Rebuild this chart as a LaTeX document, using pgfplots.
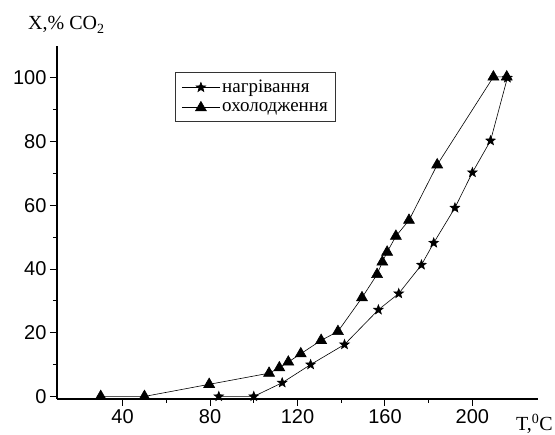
\documentclass[border=0pt]{standalone}
\usepackage{pgfplots}
\pgfplotsset{compat=1.18}
\usepackage{fontspec}
\setmainfont{Liberation Serif}
\newfontfamily\arialf{Liberation Sans}
\pgfdeclareplotmark{fstar}{%
  \pgfpathmoveto{\pgfpointpolar{90}{\pgfplotmarksize}}%
  \pgfpathlineto{\pgfpointpolar{126}{0.42\pgfplotmarksize}}%
  \pgfpathlineto{\pgfpointpolar{162}{\pgfplotmarksize}}%
  \pgfpathlineto{\pgfpointpolar{198}{0.42\pgfplotmarksize}}%
  \pgfpathlineto{\pgfpointpolar{234}{\pgfplotmarksize}}%
  \pgfpathlineto{\pgfpointpolar{270}{0.42\pgfplotmarksize}}%
  \pgfpathlineto{\pgfpointpolar{306}{\pgfplotmarksize}}%
  \pgfpathlineto{\pgfpointpolar{342}{0.42\pgfplotmarksize}}%
  \pgfpathlineto{\pgfpointpolar{18}{\pgfplotmarksize}}%
  \pgfpathlineto{\pgfpointpolar{54}{0.42\pgfplotmarksize}}%
  \pgfpathclose
  \pgfusepathqfillstroke}
\begin{document}
\begin{tikzpicture}
\begin{axis}[
  scale only axis,
  width=481pt, height=353pt,
  xmin=10, xmax=230, ymin=-0.8, ymax=110,
  axis x line=bottom, axis y line=left,
  axis line style={-, line width=1.1pt},
  xtick={40,80,...,200}, ytick={0,20,...,100},
  minor x tick num=1, minor y tick num=1,
  tick align=outside,
  major tick length=7pt, minor tick length=4pt,
  every tick/.style={black, line width=1pt},
  ticklabel style={font=\arialf\fontsize{20}{22}\selectfont},
  /pgf/number format/assume math mode=true,
  clip=false,
  legend style={at={(0.246,0.926)}, anchor=north west, draw=black!80, line width=0.6pt,
    font=\fontsize{19}{21}\selectfont, inner xsep=6pt, inner ysep=6pt, row sep=4pt},
  legend cell align=left,
  legend image code/.code={%
    \draw[mark repeat=2, mark phase=2] plot coordinates {(0pt,0pt) (19pt,0pt) (38pt,0pt)};},
]
\addplot[black, line width=0.6pt, mark=fstar, mark size=5pt, mark options={fill=black}] coordinates {
 (84,0) (100,0) (113,4.3) (126,10) (141.5,16.3) (157,27.2) (166.3,32.3) (176.7,41.3) (182.3,48.2) (192,59.2) (200,70.3) (208.3,80.3) (216,100)
};
\addlegendentry{нагрівання}
\addplot[black, line width=0.6pt, mark=triangle*, mark size=6.3pt, mark options={fill=black}] coordinates {
 (30,0) (50,0) (79.6,3.8) (107,7.3) (111.7,9) (115.8,10.8) (121.5,13.4) (130.8,17.6) (138.5,20.4) (149.5,31) (156.4,38.3) (158.8,42.2) (161,45.3) (165,50.3) (171,55.3) (183.9,72.7) (209.6,100.3) (215.7,100.3)
};
\addlegendentry{охолодження}
\end{axis}
\node[anchor=base west, inner sep=0pt, font=\fontsize{20}{22}\selectfont] at ([xshift=-29pt,yshift=16pt]current axis.north west) {X,\% CO\textsubscript{2}};
\node[anchor=base west, inner sep=0pt, font=\fontsize{20}{22}\selectfont] at ([xshift=-22pt,yshift=-32pt]current axis.south east) {T,\textsuperscript{0}C};
\path[use as bounding box] ([xshift=-57pt,yshift=-36pt]current axis.south west) rectangle ++(555pt,435pt);
\end{tikzpicture}
\end{document}
